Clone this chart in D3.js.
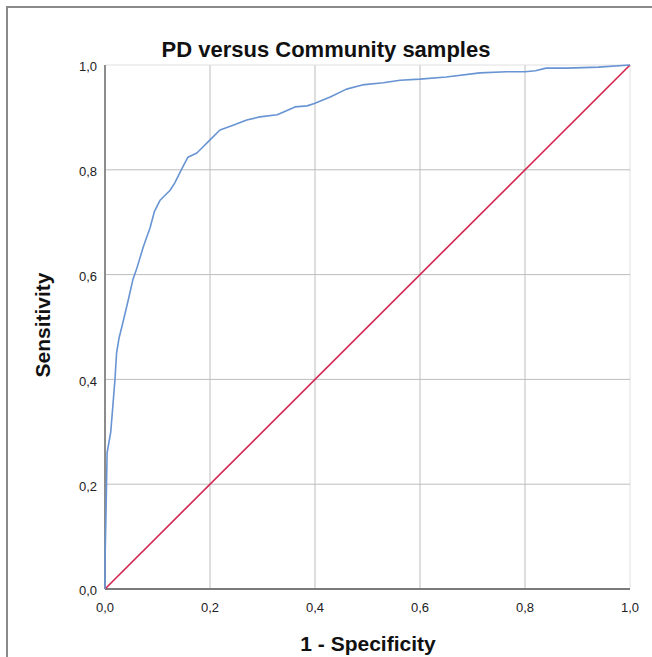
<!DOCTYPE html>
<html>
<head>
<meta charset="utf-8">
<script src="https://cdn.jsdelivr.net/npm/d3@7"></script>
<style>
  body { margin: 0; background: #fff; }
  text { font-family: Arial, "Liberation Sans", sans-serif; }
</style>
</head>
<body>
<div id="chart"></div>
<script>
// ROC curve (1 - specificity, sensitivity)
const fpr = [0, 0, 0.002, 0.004, 0.011, 0.015, 0.019, 0.022, 0.027, 0.032, 0.044, 0.053,
             0.06, 0.073, 0.086, 0.094, 0.105, 0.124, 0.133, 0.147, 0.158, 0.175, 0.187,
             0.2, 0.219, 0.244, 0.27, 0.295, 0.328, 0.339, 0.362, 0.385, 0.4, 0.429,
             0.46, 0.49, 0.53, 0.562, 0.6, 0.65, 0.714, 0.765, 0.8, 0.82, 0.84, 0.88,
             0.94, 1];
const tpr = [0, 0.05, 0.15, 0.26, 0.3, 0.35, 0.4, 0.45, 0.48, 0.5, 0.55, 0.59,
             0.61, 0.653, 0.69, 0.72, 0.742, 0.761, 0.775, 0.803, 0.824, 0.832, 0.844,
             0.857, 0.876, 0.885, 0.895, 0.901, 0.905, 0.91, 0.92, 0.922, 0.927, 0.939,
             0.954, 0.962, 0.966, 0.971, 0.973, 0.977, 0.985, 0.987, 0.987, 0.989, 0.994, 0.994,
             0.996, 1];
// reference (chance) line
const refX = [0, 1];
const refY = [0, 1];
const ticks = [0, 0.2, 0.4, 0.6, 0.8, 1.0];
const tickLabels = ["0,0", "0,2", "0,4", "0,6", "0,8", "1,0"];

const W = 652, H = 657;
const svg = d3.select("#chart").append("svg")
    .attr("width", W)
    .attr("height", H);

// frame (only left and top edges are inside the picture)
svg.append("path")
    .attr("d", "M7,657 L7,7 L652,7")
    .attr("fill", "none")
    .attr("stroke", "#8a8a8a")
    .attr("stroke-width", 2);

const x = d3.scaleLinear().domain([0, 1]).range([105, 630]);
const y = d3.scaleLinear().domain([0, 1]).range([589, 65]);

// grid
svg.append("g").selectAll("line")
    .data(ticks.slice(1))
    .join("line")
    .attr("x1", d => x(d)).attr("x2", d => x(d))
    .attr("y1", y(0)).attr("y2", y(1))
    .attr("stroke", d => d === 1 ? "#e0e0e0" : "#bdbdbd")
    .attr("stroke-width", 1);
svg.append("g").selectAll("line")
    .data(ticks.slice(1))
    .join("line")
    .attr("y1", d => y(d)).attr("y2", d => y(d))
    .attr("x1", x(0)).attr("x2", x(1))
    .attr("stroke", d => d === 1 ? "#e0e0e0" : "#bdbdbd")
    .attr("stroke-width", 1);

// axis lines
svg.append("line")
    .attr("x1", x(0)).attr("x2", x(0))
    .attr("y1", y(0)).attr("y2", y(1))
    .attr("stroke", "#8c8c8c").attr("stroke-width", 2);
svg.append("line")
    .attr("x1", x(0)).attr("x2", x(1))
    .attr("y1", y(0)).attr("y2", y(0))
    .attr("stroke", "#7a7a7a").attr("stroke-width", 2);

// tick labels
svg.append("g").selectAll("text")
    .data(ticks)
    .join("text")
    .attr("x", 97)
    .attr("y", d => y(d) + 3)
    .attr("text-anchor", "end")
    .attr("dominant-baseline", "middle")
    .attr("font-size", 13)
    .attr("fill", "#222")
    .text((d, i) => tickLabels[i]);
svg.append("g").selectAll("text")
    .data(ticks)
    .join("text")
    .attr("x", d => x(d))
    .attr("y", 612)
    .attr("text-anchor", "middle")
    .attr("font-size", 13)
    .attr("fill", "#222")
    .text((d, i) => tickLabels[i]);

// reference line
svg.append("path")
    .datum(refX.map((v, i) => [v, refY[i]]))
    .attr("fill", "none")
    .attr("stroke", "#d3234f")
    .attr("stroke-width", 1.6)
    .attr("d", d3.line().x(d => x(d[0])).y(d => y(d[1])));

// ROC curve
svg.append("path")
    .datum(fpr.map((v, i) => [v, tpr[i]]))
    .attr("fill", "none")
    .attr("stroke", "#6894d3")
    .attr("stroke-width", 1.6)
    .attr("stroke-linejoin", "round")
    .attr("d", d3.line().x(d => x(d[0])).y(d => y(d[1])));

// titles
svg.append("text")
    .attr("x", 326)
    .attr("y", 57)
    .attr("text-anchor", "middle")
    .attr("font-size", 22)
    .attr("font-weight", "bold")
    .attr("fill", "#111")
    .text("PD versus Community samples");

svg.append("text")
    .attr("transform", "translate(50,325) rotate(-90)")
    .attr("text-anchor", "middle")
    .attr("font-size", 21)
    .attr("font-weight", "bold")
    .attr("fill", "#111")
    .text("Sensitivity");

svg.append("text")
    .attr("x", 368)
    .attr("y", 651)
    .attr("text-anchor", "middle")
    .attr("font-size", 21)
    .attr("font-weight", "bold")
    .attr("fill", "#111")
    .text("1 - Specificity");
</script>
</body>
</html>
